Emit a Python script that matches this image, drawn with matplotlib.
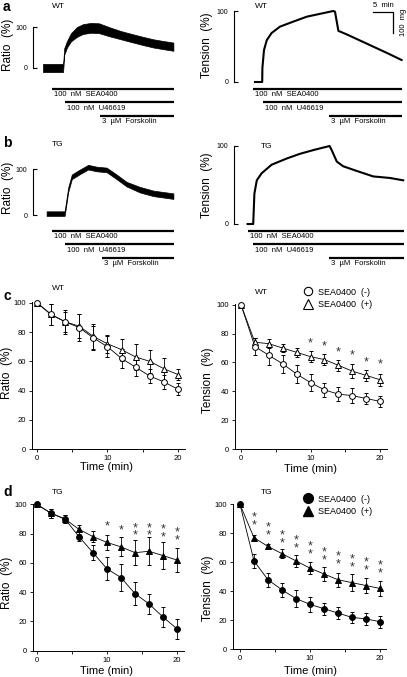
import matplotlib
matplotlib.use("Agg")
import matplotlib.pyplot as plt
from matplotlib.lines import Line2D

plt.rcParams['font.family'] = ['Liberation Sans', 'DejaVu Sans']

# ---- raw traces (time in min from trace start, value in %) ----
# a: WT
a_ratio_t = [0, 5.0, 5.1, 5.3, 6.0, 7.0, 8.5, 10, 12, 14, 16.75, 19.5, 22.6, 25, 27.6, 30, 32.6]
a_ratio_v = [0, 0, 10, 40, 58, 75, 88, 95, 98, 97, 88, 80, 72, 66, 60, 56, 52]
a_ratio_noise = [10, 10, 9, 8, 8, 10, 12, 12, 12, 12, 11, 10, 10, 10, 10, 10, 10]
a_tens_t = [0.25, 2.05, 2.1, 2.5, 3.2, 4.4, 6.5, 9.8, 13.2, 16.5, 19.8, 20.25, 21.1, 23.2, 28.2, 33.2, 36.9]
a_tens_v = [0, 0, 20, 45, 59, 69, 78, 85, 92, 96, 100, 99, 72, 67, 54, 41, 31]
# b: TG
b_ratio_t = [0.9, 5.4, 5.7, 6.3, 7.2, 9.25, 11.3, 13.4, 15.9, 18.4, 20.9, 24.25, 27.6, 32.6]
b_ratio_v = [3, 3, 20, 55, 83, 94, 104, 100, 98, 83, 67, 55, 47, 41]
b_ratio_noise = [5, 5, 5, 5, 5, 5, 5, 5, 5, 5, 5, 6, 6, 6]
b_tens_t = [-1.6, -0.2, 0.1, 0.7, 1.9, 4.4, 8.2, 11.5, 15, 18.9, 19.4, 20.7, 22.3, 25.7, 29.8, 34, 37.3]
b_tens_v = [0, 0, 39, 56, 65, 76, 84, 90, 95, 100, 95, 80, 74, 68, 61, 59, 56]

# drug application (start, end) in min
drug_labels = ["100  nM  SEA0400", "100  nM  U46619", "3  \u00b5M  Forskolin"]
a_left_drugs = [(2.25, 32.75), (5.5, 32.75), (14.25, 32.75)]
a_right_drugs = [(-0.2, 36.9), (2.2, 36.9), (18.75, 36.9)]
b_left_drugs = [(2.3, 32.75), (5.5, 32.75), (14.8, 32.75)]
b_right_drugs = [(-1.6, 37.5), (-0.2, 37.5), (18.8, 37.5)]

# ---- time courses ----
time = [0, 2, 4, 6, 8, 10, 12, 14, 16, 18, 20]
c_ratio_neg = [100, 92, 87, 83, 76, 70, 62, 56, 50, 46, 41]
c_ratio_neg_err = [0, 7, 8, 9, 8, 7, 6.5, 6, 4.5, 5, 4]
c_ratio_pos = [100, 92, 87, 84, 77, 72, 68, 63, 60, 55, 51]
c_ratio_pos_err = [0, 7, 7, 8, 8.5, 6, 7.5, 9, 8, 7.5, 4]
c_tens_neg = [100, 71, 65, 59, 52, 46, 41, 38, 37, 35, 33]
c_tens_neg_err = [0, 6, 7, 6, 6, 6, 5, 5, 5, 4, 4]
c_tens_pos = [100, 74, 73, 70, 67, 64, 62, 58, 54, 51, 48]
c_tens_pos_err = [0, 3, 3, 3, 3, 4, 4, 4, 5, 4, 4]
c_tens_sig_t = [10, 12, 14, 16, 18, 20]
c_tens_sig_n = [1, 1, 1, 1, 1, 1]
c_tens_sig_y = [74, 72, 68, 66, 61, 60]

d_ratio_neg = [100, 94, 90, 78, 67, 56, 50, 39, 32, 23, 15]
d_ratio_neg_err = [0, 3, 3, 3, 5, 8, 9, 8, 7, 7, 7]
d_ratio_pos = [100, 94, 90, 83, 78, 74, 71, 67, 68, 65, 62]
d_ratio_pos_err = [0, 3, 3, 3, 4, 5, 6.5, 8.5, 9.5, 9, 8.5]
d_ratio_sig_t = [10, 12, 14, 16, 18, 20]
d_ratio_sig_n = [1, 1, 2, 2, 2, 2]
d_ratio_sig_y = [86, 83, 85, 85, 84, 82]
d_tens_neg = [100, 61, 48, 41, 35, 31, 28, 25, 22, 21, 19]
d_tens_neg_err = [0, 5, 5, 5, 6, 5, 4, 4, 4, 4, 4]
d_tens_pos = [100, 77, 71, 66, 61, 56, 52, 48, 46, 44, 42]
d_tens_pos_err = [0, 2, 2, 3, 4, 4, 5, 5, 6, 5, 5]
d_tens_sig_t = [2, 4, 6, 8, 10, 12, 14, 16, 18, 20]
d_tens_sig_n = [2, 2, 2, 2, 2, 2, 2, 2, 2, 2]
d_tens_sig_y = [92, 85, 80, 76, 72, 68, 65, 63, 61, 59]

W, H = 407, 677
fig = plt.figure(figsize=(W / 100, H / 100), dpi=100)


def px_axes(x0, y0, x1, y1):
    return fig.add_axes([x0 / W, 1 - y1 / H, (x1 - x0) / W, (y1 - y0) / H])


def fig_text(x, y, s, **kw):
    fig.text(x / W, 1 - y / H, s, **kw)


def trace_axes(box, xlim, ylim):
    ax = px_axes(*box)
    ax.set_xlim(*xlim)
    ax.set_ylim(*ylim)
    for s in ["top", "right", "bottom"]:
        ax.spines[s].set_visible(False)
    ax.spines["left"].set_bounds(0, 100)
    ax.spines["left"].set_linewidth(0.8)
    ax.set_xticks([])
    ax.set_yticks([0, 100])
    ax.tick_params(axis="y", direction="in", length=3.2, width=0.8, labelsize=5, pad=4)
    ax.patch.set_alpha(0)
    return ax


def drug_axes(box, xlim, drugs):
    ax = px_axes(*box)
    ax.set_xlim(*xlim)
    ax.set_ylim(3.9, 0.6)
    ax.axis("off")
    for i, ((s, e), lab) in enumerate(zip(drugs, drug_labels)):
        ax.plot([s, e], [i + 1, i + 1], color="black", lw=1.6, solid_capstyle="butt")
        ax.text(s + 0.5, i + 1.42, lab, fontsize=5.5, va="center", ha="left")
    return ax


# ---------- panel a ----------
ax = trace_axes((33, 14, 180, 74), (-2.5, 34.25), ((68 - 74) / 0.41, (68 - 14) / 0.41))
lo = [v - n for v, n in zip(a_ratio_v, a_ratio_noise)]
hi = [v + n for v, n in zip(a_ratio_v, a_ratio_noise)]
ax.fill_between(a_ratio_t, lo, hi, color="black", lw=0.5)
drug_axes((33, 83.6, 180, 128), (-2.5, 34.25), a_left_drugs)

ax = trace_axes((234, 2, 406, 86), (-5, 38), ((82 - 86) / 0.71, (82 - 2) / 0.71))
ax.plot(a_tens_t, a_tens_v, color="black", lw=1.5)
# scale bar: 5 min / 100 mg
ax.plot([29.75, 34.75, 34.75], [98.6, 98.6, 69], color="black", lw=0.9, clip_on=False)
ax.text(32.25, 103, "5  min", fontsize=5.5, ha="center", va="bottom")
ax.text(37.3, 84, "100  mg", fontsize=5.5, ha="center", va="center", rotation=90)
drug_axes((234, 83.6, 406, 128), (-5, 38), a_right_drugs)

# ---------- panel b ----------
ax = trace_axes((33, 160, 180, 220), (-2.5, 34.25), ((215 - 220) / 0.46, (215 - 160) / 0.46))
lo = [v - n for v, n in zip(b_ratio_v, b_ratio_noise)]
hi = [v + n for v, n in zip(b_ratio_v, b_ratio_noise)]
ax.fill_between(b_ratio_t, lo, hi, color="black", lw=0.5)
drug_axes((33, 225.6, 180, 270), (-2.5, 34.25), b_left_drugs)

ax = trace_axes((234, 140, 406, 228), (-5, 38), ((224 - 228) / 0.78, (224 - 140) / 0.78))
ax.plot(b_tens_t, b_tens_v, color="black", lw=1.5)
drug_axes((234, 225.6, 406, 270), (-5, 38), b_right_drugs)


# ---------- panels c, d ----------
def course_axes(box, xlim):
    ax = px_axes(*box)
    ax.set_xlim(*xlim)
    ax.set_ylim(0, 100.5)
    for s in ["top", "right"]:
        ax.spines[s].set_visible(False)
    for s in ["left", "bottom"]:
        ax.spines[s].set_linewidth(0.7)
    ax.set_xticks([0, 10, 20])
    ax.set_xticks([5, 15], minor=True)
    ax.set_yticks([0, 20, 40, 60, 80, 100])
    ax.tick_params(which="both", direction="out", length=2.2, width=0.6, labelsize=5.5, pad=2)
    ax.patch.set_alpha(0)
    return ax


def course(ax, y, err, marker, filled):
    ax.errorbar(time, y, yerr=err, color="black", lw=0.6, elinewidth=0.6, capsize=1.3,
                capthick=0.6, marker=marker, ms=4.2 if marker == "o" else 4.6,
                mfc="black" if filled else "white", mec="black", mew=0.7, clip_on=False, zorder=3)


def stars(ax, ts, ns, ys):
    # one text per time point; stacked asterisks for p<0.01
    for t, n, y in zip(ts, ns, ys):
        ax.text(t, y + 3, "\n".join(["*"] * n), fontsize=9, ha="center", va="top",
                linespacing=0.55, color="#333333")


ax = course_axes((32, 302, 185, 449.3), (-0.7, 21))
course(ax, c_ratio_pos, c_ratio_pos_err, "^", False)
course(ax, c_ratio_neg, c_ratio_neg_err, "o", False)

ax = course_axes((235, 304, 387, 449), (-0.86, 21))
course(ax, c_tens_pos, c_tens_pos_err, "^", False)
course(ax, c_tens_neg, c_tens_neg_err, "o", False)
stars(ax, c_tens_sig_t, c_tens_sig_n, c_tens_sig_y)
h = [Line2D([], [], ls="none", marker="o", ms=6, mfc="white", mec="black", mew=0.8),
     Line2D([], [], ls="none", marker="^", ms=7, mfc="white", mec="black", mew=0.8)]
ax.legend(h, ["SEA0400  (-)", "SEA0400  (+)"], loc="upper left", frameon=False, fontsize=6.5,
          bbox_to_anchor=(298 / W, 1 - 283 / H), bbox_transform=fig.transFigure,
          handlelength=1.2, handletextpad=0.5, labelspacing=0.35, borderpad=0)

ax = course_axes((33, 503.7, 184, 650.7), (-0.57, 21))
course(ax, d_ratio_pos, d_ratio_pos_err, "^", True)
course(ax, d_ratio_neg, d_ratio_neg_err, "o", True)
stars(ax, d_ratio_sig_t, d_ratio_sig_n, d_ratio_sig_y)

ax = course_axes((233, 503.7, 386, 649.3), (-1.0, 20.85))
course(ax, d_tens_pos, d_tens_pos_err, "^", True)
course(ax, d_tens_neg, d_tens_neg_err, "o", True)
stars(ax, d_tens_sig_t, d_tens_sig_n, d_tens_sig_y)
h = [Line2D([], [], ls="none", marker="o", ms=7, mfc="black", mec="black"),
     Line2D([], [], ls="none", marker="^", ms=7.5, mfc="black", mec="black")]
ax.legend(h, ["SEA0400  (-)", "SEA0400  (+)"], loc="upper left", frameon=False, fontsize=6.5,
          bbox_to_anchor=(298 / W, 1 - 490 / H), bbox_transform=fig.transFigure,
          handlelength=1.2, handletextpad=0.5, labelspacing=0.35, borderpad=0)

# ---------- labels ----------
for x, y, s in [(3, 7, "a"), (3, 143, "b"), (3, 296, "c"), (3, 492, "d")]:
    fig_text(x, y, s, fontsize=10, fontweight="bold", va="center", ha="left")
for x, y, s in [(52, 6, "WT"), (255, 6, "WT"), (52, 145, "TG"), (261, 146, "TG"),
                (52, 289, "WT"), (255, 292, "WT"), (52, 492, "TG"), (261, 493, "TG")]:
    fig_text(x, y, s, fontsize=6, va="center", ha="left")

for x, y, s in [(8, 45, "Ratio  (%)"), (207, 45, "Tension  (%)"), (8, 188, "Ratio  (%)"),
                (207, 185, "Tension  (%)"), (7, 373, "Ratio  (%)"), (208, 380, "Tension  (%)"),
                (7, 583, "Ratio  (%)"), (208, 588, "Tension  (%)")]:
    fig_text(x, y, s, fontsize=8.5, rotation=90, va="center", ha="center")

for x, y, s in [(107, 467, "Time (min)"), (311, 469, "Time (min)"),
                (107, 671, "Time (min)"), (311, 671, "Time (min)")]:
    fig_text(x, y, s, fontsize=8, va="center", ha="center")

fig.savefig("out.png", dpi=100)
